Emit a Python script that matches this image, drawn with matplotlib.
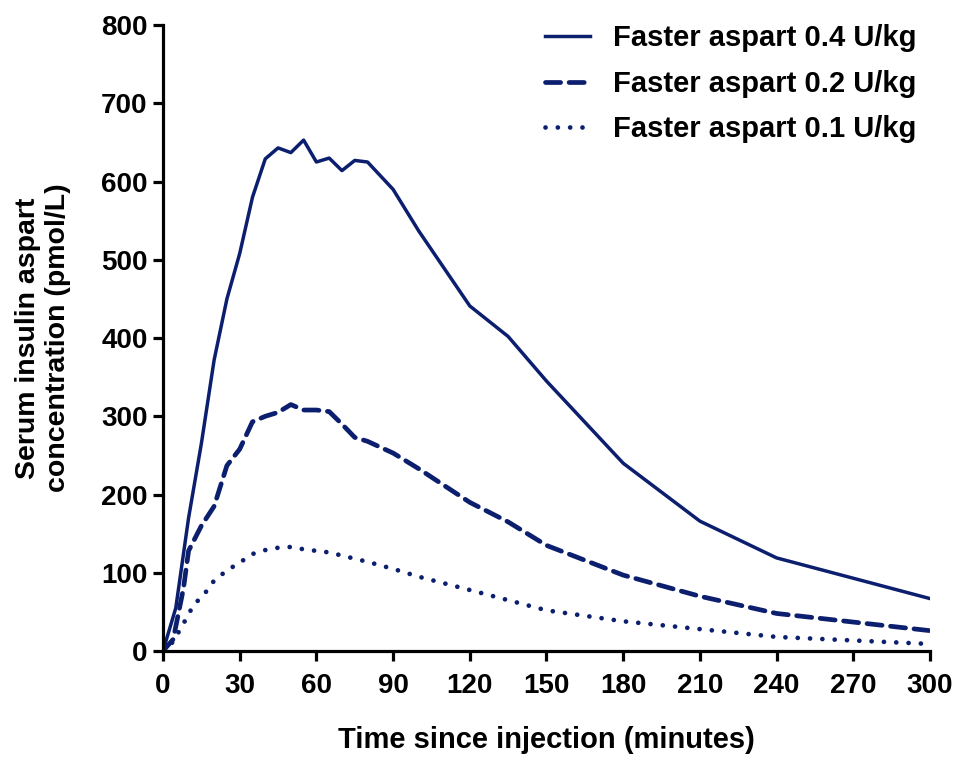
import matplotlib
matplotlib.use("Agg")
import matplotlib.pyplot as plt

plt.rcParams['font.family'] = ['Liberation Sans', 'DejaVu Sans']
plt.rcParams['font.weight'] = 'bold'

# --- data ---
t_04 = [0, 5, 10, 15, 20, 25, 30, 35, 40, 45, 50, 55, 60, 65, 70, 75, 80, 90, 100, 120, 135, 150, 180, 210, 240, 300]
c_04 = [0, 55, 170, 265, 372, 450, 508, 580, 629, 643, 637, 653, 625, 630, 614, 627, 625, 590, 537, 441, 402, 345, 240, 166, 119, 67]

t_02 = [0, 4, 8, 10, 15, 20, 25, 30, 35, 40, 45, 50, 55, 60, 65, 70, 75, 80, 90, 100, 120, 135, 150, 180, 210, 240, 300]
c_02 = [0, 15, 80, 128, 160, 185, 237, 258, 293, 300, 305, 315, 308, 308, 306, 290, 273, 268, 253, 233, 190, 165, 135, 97, 70, 48, 26]

t_01 = [0, 4, 8, 12, 16, 20, 25, 30, 35, 40, 45, 50, 55, 60, 65, 70, 80, 90, 100, 120, 150, 180, 210, 240, 300]
c_01 = [0, 12, 35, 59, 72, 90, 103, 113, 124, 129, 132, 133, 130, 128, 126, 122, 114, 105, 95, 78, 52, 38, 28, 18, 9]

labels = ['Faster aspart 0.4 U/kg', 'Faster aspart 0.2 U/kg', 'Faster aspart 0.1 U/kg']
navy = '#0c1f6e'

fig = plt.figure(figsize=(9.56, 7.6), dpi=100)
ax = fig.add_axes([0.1705, 0.1434, 0.8023, 0.8236])

ax.plot(t_04, c_04, color=navy, lw=2.5, ls='-', label=labels[0])
ax.plot(t_02, c_02, color=navy, lw=3.4, ls=(0, (3.2, 1.8)), dash_capstyle='round', label=labels[1])
ax.plot(t_01, c_01, color=navy, lw=3.4, ls=(0, (0.01, 2.6)), dash_capstyle='round', label=labels[2])

ax.set_xlim(0, 300)
ax.set_ylim(0, 800)
ax.set_xticks(range(0, 301, 30))
ax.set_yticks(range(0, 801, 100))

for s in ['top', 'right']:
    ax.spines[s].set_visible(False)
for s in ['left', 'bottom']:
    ax.spines[s].set_linewidth(2.3)
ax.tick_params(width=2.3, length=7, labelsize=20)
ax.tick_params(axis='x', pad=9)
ax.tick_params(axis='y', pad=4)
for lab in ax.get_xticklabels() + ax.get_yticklabels():
    lab.set_fontweight('bold')

ax.set_xlabel('Time since injection (minutes)', fontsize=21, fontweight='bold', labelpad=19)
ax.set_ylabel('Serum insulin aspart\nconcentration (pmol/L)', fontsize=20.5, fontweight='bold',
              labelpad=22, linespacing=1.2)

leg = ax.legend(loc='upper right', frameon=False, fontsize=21, handlelength=1.55,
                handletextpad=0.8, labelspacing=0.6, borderaxespad=0.0,
                bbox_to_anchor=(0.998, 1.02))

fig.savefig('out.png', dpi=100)
